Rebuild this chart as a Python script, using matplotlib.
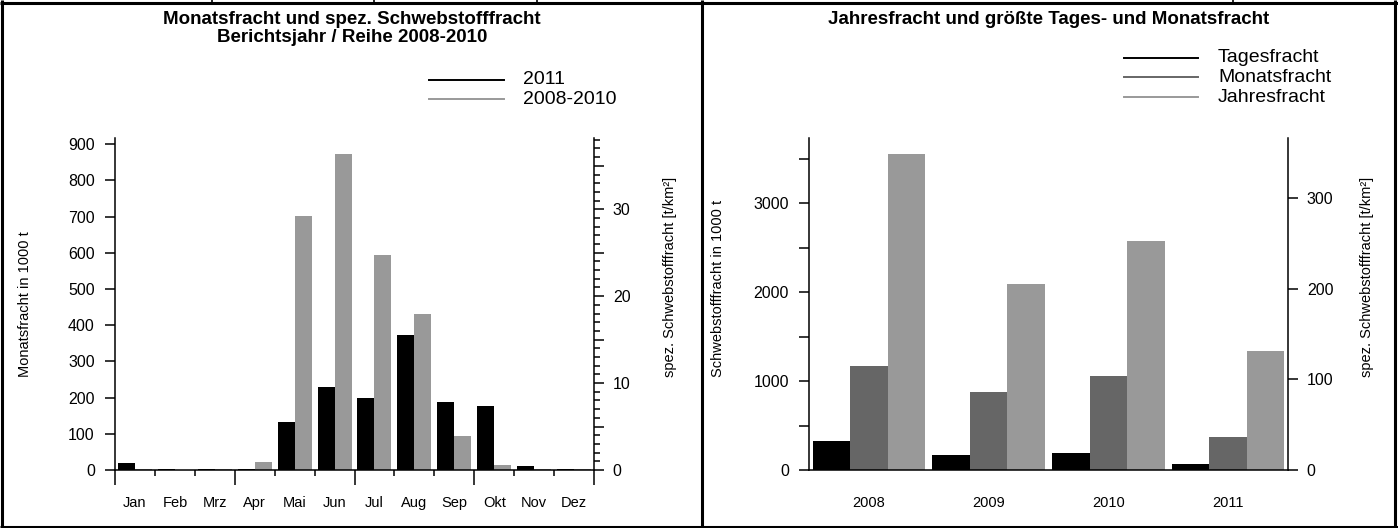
import matplotlib
matplotlib.use("Agg")
import numpy as np
import matplotlib.pyplot as plt
from matplotlib.lines import Line2D
from matplotlib.ticker import MultipleLocator, FuncFormatter

plt.rcParams['font.family'] = ['Liberation Sans', 'DejaVu Sans']

# linke Grafik: Monatsfracht (1000 t)
months = ["Jan", "Feb", "Mrz", "Apr", "Mai", "Jun", "Jul", "Aug", "Sep", "Okt", "Nov", "Dez"]
fracht_2011 = [18, 2, 2, 4, 132, 229, 198, 373, 187, 176, 10, 4]
fracht_reihe = [2, 1, 4, 21, 702, 873, 594, 431, 94, 14, 4, 4]

# rechte Grafik: Jahresfracht, groesste Tages- und Monatsfracht (1000 t)
years = ["2008", "2009", "2010", "2011"]
tagesfracht = [323, 165, 188, 64]
monatsfracht = [1169, 876, 1056, 368]
jahresfracht = [3560, 2094, 2579, 1338]

W, H = 1398, 528
BLACK, DARK, LIGHT = "#000000", "#666666", "#999999"


def fx(px):
    return px / W


def fy(py):
    return 1 - py / H


def frame_line(fig, x0, y0, x1, y1, lw=2.2):
    fig.add_artist(Line2D([fx(x0), fx(x1)], [fy(y0), fy(y1)], color="black",
                          lw=lw, transform=fig.transFigure, solid_capstyle="butt"))


def style_axes(ax):
    for s in ["top", "right"]:
        ax.spines[s].set_visible(False)
    for s in ["left", "bottom"]:
        ax.spines[s].set_linewidth(1.1)
    ax.tick_params(axis="y", direction="out", length=7.5, width=1.1, pad=7, labelsize=11.5)


def style_twin(axr):
    for s in ["top", "left", "bottom"]:
        axr.spines[s].set_visible(False)
    axr.spines["right"].set_linewidth(1.1)
    axr.tick_params(axis="y", direction="out", length=7.5, width=1.1, pad=6, labelsize=11.5)


fig = plt.figure(figsize=(W / 100, H / 100), dpi=100)

# ---- linke Grafik ----
ax1 = fig.add_axes([fx(115), fy(470), fx(594) - fx(115), (470 - 138) / H])
x = np.arange(len(months))
ax1.bar(x + 0.075, fracht_2011, width=0.425, align="edge", color=BLACK)
ax1.bar(x + 0.5, fracht_reihe, width=0.425, align="edge", color=LIGHT)
ax1.set_xlim(0, 12)
ax1.set_ylim(0, 917)
style_axes(ax1)
ax1.yaxis.set_major_locator(MultipleLocator(100))
ax1.set_xticks([0, 3, 6, 9, 12])
ax1.set_xticks([1, 2, 4, 5, 7, 8, 10, 11], minor=True)
ax1.tick_params(axis="x", which="major", length=11, width=1.1, labelbottom=False)
ax1.tick_params(axis="x", which="minor", length=4, width=1.1)
sec1 = ax1.secondary_xaxis("bottom")
sec1.set_xticks(x + 0.5, months)
sec1.tick_params(length=0, pad=19, labelsize=10.5)
sec1.spines["bottom"].set_visible(False)

ax1r = ax1.twinx()
ax1r.set_ylim(0, 38.2)
style_twin(ax1r)
ax1r.yaxis.set_major_locator(MultipleLocator(5))
ax1r.yaxis.set_minor_locator(MultipleLocator(1))
ax1r.yaxis.set_major_formatter(FuncFormatter(lambda v, p: f"{v:.0f}" if v % 10 == 0 else ""))
ax1r.tick_params(axis="y", which="minor", length=4, width=1.1)

fig.text(fx(25), fy(377), "Monatsfracht in 1000 t", rotation=90, ha="center", va="bottom", fontsize=10.5)
fig.text(fx(670), fy(377), "spez. Schwebstofffracht [t/km²]", rotation=90, ha="center", va="bottom", fontsize=10.5)

fig.text(fx(352), fy(20), "Monatsfracht und spez. Schwebstofffracht", ha="center", va="center",
         fontsize=13.5, fontweight="bold")
fig.text(fx(352), fy(38), "Berichtsjahr / Reihe 2008-2010", ha="center", va="center",
         fontsize=13.5, fontweight="bold")

for (lab, col, yy) in [("2011", BLACK, 80), ("2008-2010", LIGHT, 99)]:
    fig.add_artist(Line2D([fx(429), fx(504)], [fy(yy), fy(yy)], color=col, lw=1.4,
                          transform=fig.transFigure))
    fig.text(fx(523), fy(yy), lab, ha="left", va="center", fontsize=14)

# ---- rechte Grafik ----
ax2 = fig.add_axes([fx(809), fy(470), fx(1288) - fx(809), (470 - 138) / H])
xg = np.arange(len(years)) + 0.5
bw = 0.313
ax2.bar(xg - bw, tagesfracht, width=bw, color=BLACK)
ax2.bar(xg, monatsfracht, width=bw, color=DARK)
ax2.bar(xg + bw, jahresfracht, width=bw, color=LIGHT)
ax2.set_xlim(0, 4)
ax2.set_ylim(0, 3737)
style_axes(ax2)
ax2.yaxis.set_major_locator(MultipleLocator(500))
ax2.yaxis.set_major_formatter(FuncFormatter(lambda v, p: f"{v:.0f}" if v % 1000 == 0 else ""))
ax2.set_xticks(xg, years)
ax2.tick_params(axis="x", length=0, pad=19, labelsize=10.5)

ax2r = ax2.twinx()
ax2r.set_ylim(0, 366.8)
style_twin(ax2r)
ax2r.set_yticks([0, 100, 200, 300])

fig.text(fx(718), fy(377), "Schwebstofffracht in 1000 t", rotation=90, ha="center", va="bottom", fontsize=10.5)
fig.text(fx(1367), fy(377), "spez. Schwebstofffracht [t/km²]", rotation=90, ha="center", va="bottom", fontsize=10.5)

fig.text(fx(1049), fy(20), "Jahresfracht und größte Tages- und Monatsfracht", ha="center", va="center",
         fontsize=13.5, fontweight="bold")

for (lab, col, yy) in [("Tagesfracht", BLACK, 58), ("Monatsfracht", DARK, 77), ("Jahresfracht", LIGHT, 97)]:
    fig.add_artist(Line2D([fx(1124), fx(1198)], [fy(yy), fy(yy)], color=col, lw=1.4,
                          transform=fig.transFigure))
    fig.text(fx(1218), fy(yy), lab, ha="left", va="center", fontsize=14)

# ---- Rahmen ----
frame_line(fig, 0, 3, W, 3)
frame_line(fig, 0, 526.5, W, 526.5)
frame_line(fig, 2, 0, 2, H)
frame_line(fig, 702, 0, 702, H)
frame_line(fig, 1395, 0, 1395, H)
for xv in [212, 374, 537, 1233]:
    frame_line(fig, xv, 0, xv, 3, lw=1.2)

fig.savefig("out.png", dpi=100)
